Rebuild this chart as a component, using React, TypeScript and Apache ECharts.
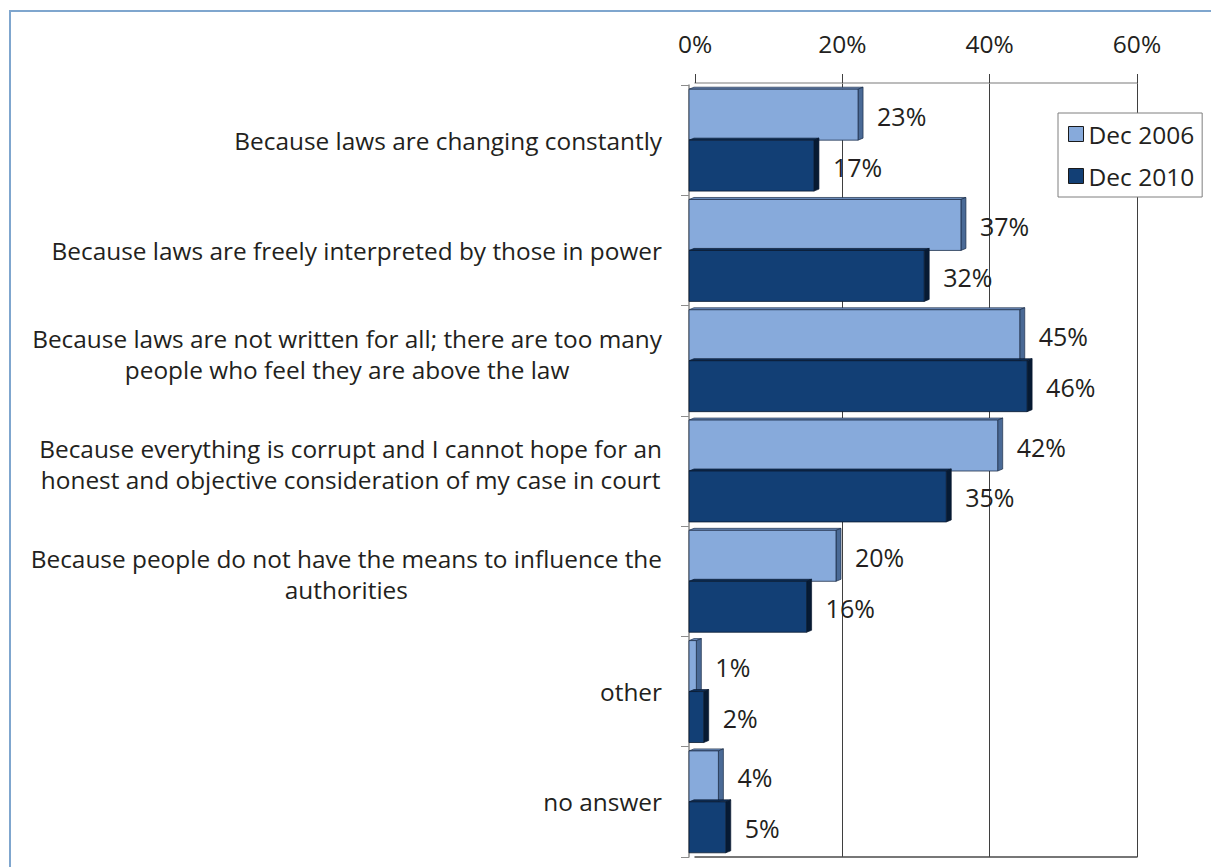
import React, { useEffect, useRef } from 'react';
import * as echarts from 'echarts';

const categories = [
  'Because laws are changing constantly',
  'Because laws are freely interpreted by those in power',
  'Because laws are not written for all; there are too many\npeople who feel they are above the law',
  'Because everything is corrupt and I cannot hope for an\nhonest and objective consideration of my case in court',
  'Because people do not have the means to influence the\nauthorities',
  'other',
  'no answer',
];
const seriesNames = ['Dec 2006', 'Dec 2010'];
const dec2006 = [23, 37, 45, 42, 20, 1, 4];
const dec2010 = [17, 32, 46, 35, 16, 2, 5];
const xMin = 0;
const xMax = 60;
const xInterval = 20;

const FONT = '"Open Sans", "Noto Sans", sans-serif';
const TEXT = '#231f20';

const makeRender = (slot: number, front: string, side: string, top: string, edge: string) =>
  (params: any, api: any) => {
    const cat = api.value(1);
    const v = api.value(0);
    const start = api.coord([0, cat]);
    const end = api.coord([v, cat]);
    const band = api.size([0, 1])[1];
    const h = band * 0.462;
    const y0 = slot === 0 ? start[1] - h : start[1];
    const x0 = start[0];
    const x1 = end[0];
    const dx = 5;
    const dy = 2;
    return {
      type: 'group',
      children: [
        {
          type: 'polygon',
          shape: { points: [[x0, y0], [x0 + dx, y0 - dy], [x1 + dx, y0 - dy], [x1, y0]] },
          style: { fill: top, stroke: edge, lineWidth: 0.7 },
        },
        {
          type: 'polygon',
          shape: { points: [[x1, y0], [x1 + dx, y0 - dy], [x1 + dx, y0 + h - dy], [x1, y0 + h]] },
          style: { fill: side, stroke: edge, lineWidth: 0.7 },
        },
        {
          type: 'rect',
          shape: { x: x0, y: y0, width: x1 - x0, height: h },
          style: { fill: front, stroke: edge, lineWidth: 0.8 },
        },
        {
          type: 'text',
          x: x1 + 19,
          y: y0 + h / 2 + 1,
          style: {
            text: v + '%',
            fontSize: 25,
            fontFamily: FONT,
            fill: TEXT,
            align: 'left',
            verticalAlign: 'middle',
          },
        },
      ],
    };
  };

const labelStyle = {
  align: 'center',
  fontSize: 24.4,
  fontFamily: FONT,
  color: TEXT,
  lineHeight: 31,
};

export default function App() {
  const ref = useRef<HTMLDivElement>(null);
  useEffect(() => {
    if (!ref.current) return;
    const chart = echarts.init(ref.current, undefined, { renderer: 'svg' });
    chart.setOption({
      animation: false,
      backgroundColor: '#ffffff',
      textStyle: { fontFamily: FONT },
      graphic: [
        {
          type: 'rect',
          silent: true,
          z: -10,
          shape: { x: 10, y: 11, width: 1240, height: 900 },
          style: { fill: 'none', stroke: '#7FA6CE', lineWidth: 2 },
        },
      ],
      legend: {
        data: seriesNames,
        orient: 'vertical',
        left: 1058,
        top: 113,
        padding: [8, 8, 8, 10],
        itemGap: 16,
        itemWidth: 15,
        itemHeight: 15,
        icon: 'rect',
        backgroundColor: '#ffffff',
        borderColor: '#7f7f7f',
        borderWidth: 1,
        borderRadius: 0,
        itemStyle: { borderColor: '#1a1a1a', borderWidth: 1 },
        textStyle: { fontSize: 24.5, fontFamily: FONT, color: TEXT, lineHeight: 26 },
        z: 10,
      },
      grid: [
        { left: 695, right: 74, top: 83, bottom: 10 },
        { left: 689, width: 441, top: 85, bottom: 10 },
      ],
      xAxis: [
        {
          gridIndex: 0,
          type: 'value',
          position: 'top',
          min: xMin,
          max: xMax,
          interval: xInterval,
          axisLine: { show: true, lineStyle: { color: '#a6a6a6', width: 1.5 } },
          axisTick: { show: true, length: 9, inside: false, lineStyle: { color: '#404040' } },
          axisLabel: {
            formatter: '{value}%',
            fontSize: 24.5,
            fontFamily: FONT,
            color: TEXT,
            margin: 27,
          },
          splitLine: { show: true, showMinLine: false, lineStyle: { color: '#3f3f3f', width: 1 } },
        },
        {
          gridIndex: 0,
          type: 'value',
          position: 'bottom',
          min: xMin,
          max: xMax,
          interval: xInterval,
          axisLine: { show: true, lineStyle: { color: '#4a4a4a', width: 1.5 } },
          axisTick: { show: false },
          axisLabel: { show: false },
          splitLine: { show: false },
        },
        {
          gridIndex: 1,
          type: 'value',
          min: xMin,
          max: xMax,
          interval: xInterval,
          show: false,
        },
      ],
      yAxis: [
        {
          gridIndex: 0,
          type: 'category',
          data: categories,
          inverse: true,
          show: false,
        },
        {
          gridIndex: 1,
          type: 'category',
          data: categories,
          inverse: true,
          axisLine: { show: true, lineStyle: { color: '#8c8c8c', width: 1.5 } },
          axisTick: { show: true, length: 8, lineStyle: { color: '#8c8c8c' } },
          axisLabel: {
            margin: 27,
            formatter: (val: string) => {
              const lines = val.split('\n');
              const body = lines.map((l) => '{c|' + l + '}').join('\n');
              return lines.length > 1 ? body + '\n{e| }' : body;
            },
            rich: {
              c: labelStyle,
              e: { fontSize: 1, lineHeight: 14, fontFamily: FONT, color: TEXT },
            },
          },
          splitLine: { show: false },
        },
      ],
      series: [
        {
          name: seriesNames[0],
          type: 'custom',
          xAxisIndex: 2,
          yAxisIndex: 1,
          itemStyle: { color: '#87AADB' },
          encode: { x: 0, y: 1 },
          renderItem: makeRender(0, '#87AADB', '#4A6A96', '#6F8FBF', '#1d2f4a'),
          data: dec2006.map((v, i) => [v, i]),
        },
        {
          name: seriesNames[1],
          type: 'custom',
          xAxisIndex: 2,
          yAxisIndex: 1,
          itemStyle: { color: '#123F75' },
          encode: { x: 0, y: 1 },
          renderItem: makeRender(1, '#123F75', '#061A33', '#0E2F58', '#0a1a30'),
          data: dec2010.map((v, i) => [v, i]),
        },
      ],
    });
    return () => chart.dispose();
  }, []);
  return (
    <div
      ref={ref}
      style={{ position: 'absolute', left: 0, top: 0, width: 1211, height: 867 }}
    />
  );
}
